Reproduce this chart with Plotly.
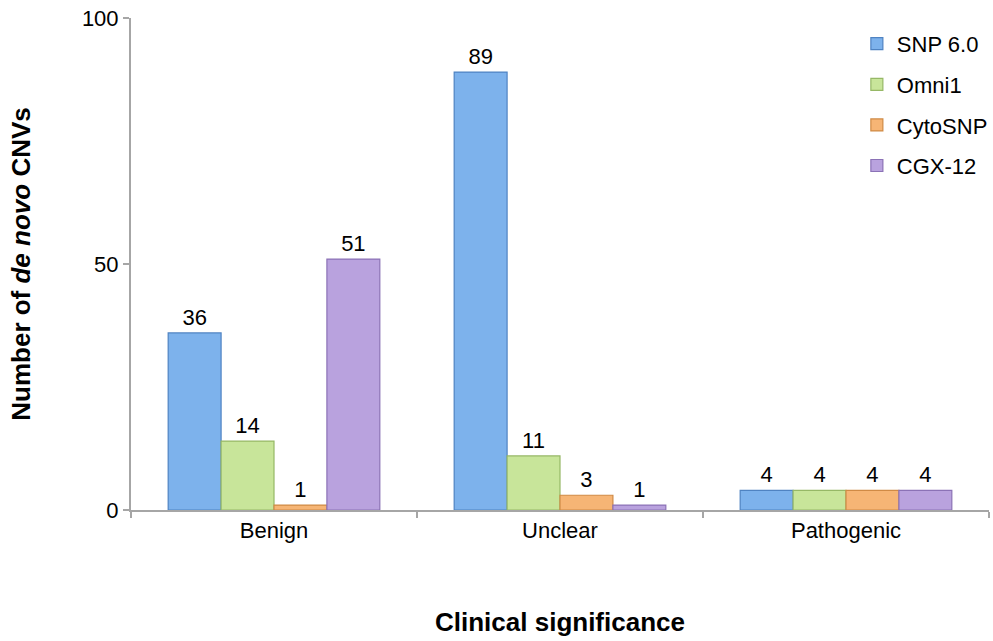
import plotly.graph_objects as go

categories = ["Benign", "Unclear", "Pathogenic"]
series_names = ["SNP 6.0", "Omni1", "CytoSNP", "CGX-12"]
snp6 = [36, 89, 4]
omni1 = [14, 11, 4]
cytosnp = [1, 3, 4]
cgx12 = [51, 1, 4]
y_ticks = [0, 50, 100]

series_values = [snp6, omni1, cytosnp, cgx12]
fills = ["#7db2ec", "#c8e59a", "#f6b575", "#b9a2de"]
edges = ["#4f83c2", "#96b866", "#d08a45", "#8b72b6"]

FONT = "Liberation Sans, Arial, sans-serif"

fig = go.Figure()
for i, (name, vals) in enumerate(zip(series_names, series_values)):
    fig.add_trace(go.Bar(
        name=name,
        x=categories,
        y=vals,
        text=[str(v) for v in vals],
        textposition="outside",
        cliponaxis=False,
        textfont=dict(family=FONT, size=22, color="#000"),
        marker=dict(color=fills[i], line=dict(color=edges[i], width=1.2)),
        legendgroup=name,
    ))

fig.update_layout(
    width=993, height=641,
    margin=dict(l=131, r=0, t=18, b=131),
    paper_bgcolor="white", plot_bgcolor="white",
    barmode="group",
    bargap=0.26, bargroupgap=0.0,
    font=dict(family=FONT, size=22, color="#000"),
    showlegend=True,
    legend=dict(
        x=0.846, y=0.99, xanchor="left", yanchor="top",
        bgcolor="rgba(0,0,0,0)",
        font=dict(size=22),
        traceorder="grouped",
        tracegroupgap=9,
        itemwidth=30,
    ),
    xaxis=dict(
        type="category",
        showline=True, linecolor="#a6a6a6", linewidth=2,
        ticks="outside", tickson="boundaries", ticklen=6, tickcolor="#a6a6a6", tickwidth=2,
        showgrid=False,
        tickfont=dict(size=22),
        title=dict(text="<b>Clinical significance</b>", font=dict(size=26), standoff=70),
    ),
    yaxis=dict(
        range=[0, 100],
        tickvals=y_ticks,
        showline=True, linecolor="#a6a6a6", linewidth=2,
        ticks="outside", ticklen=6, tickcolor="#a6a6a6", tickwidth=2,
        showgrid=False, zeroline=False,
        tickfont=dict(size=22),
        title=dict(text="<b>Number of <i>de novo</i> CNVs</b>", font=dict(size=26), standoff=44),
    ),
)

fig.write_html("out.html")
